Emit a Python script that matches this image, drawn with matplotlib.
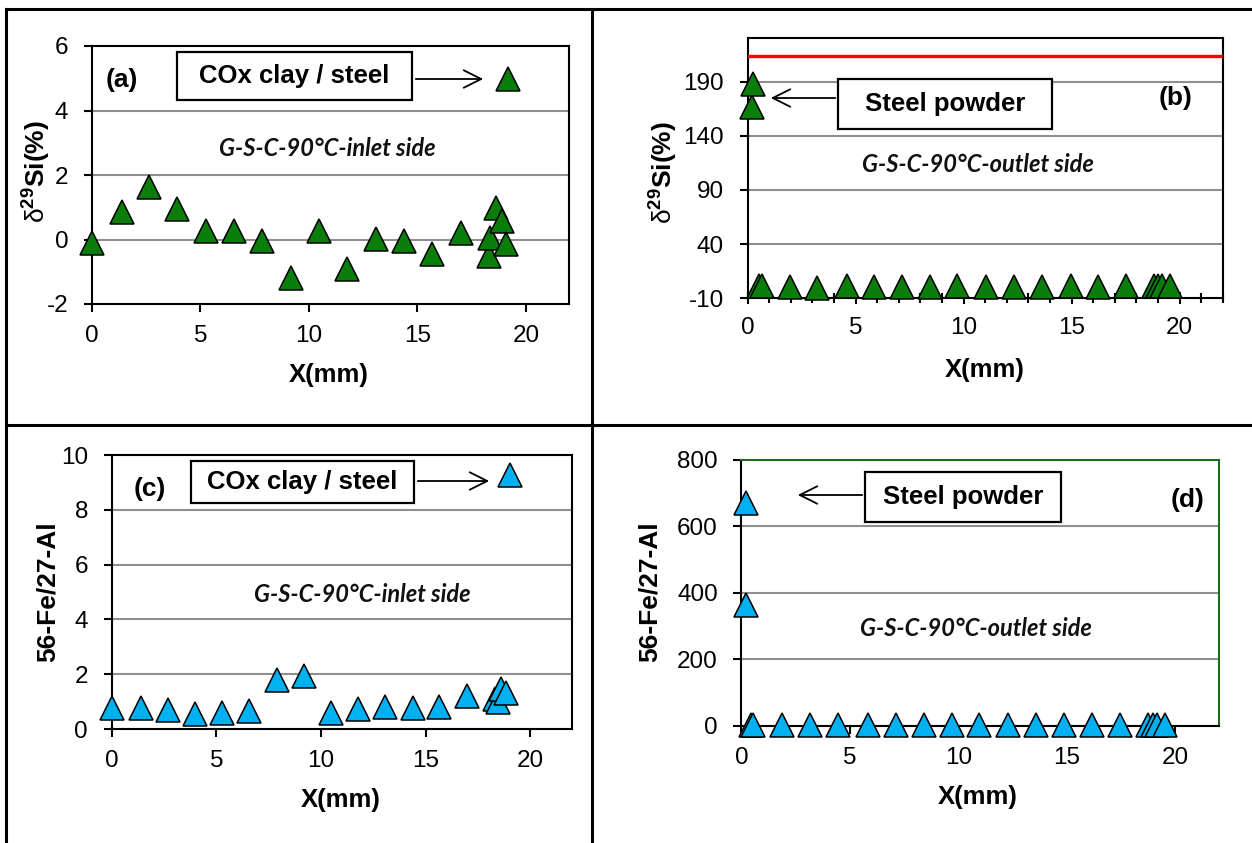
import matplotlib
matplotlib.use("Agg")
import matplotlib.pyplot as plt
from matplotlib.patches import Rectangle, FancyArrowPatch
from matplotlib.lines import Line2D
from matplotlib.ticker import MultipleLocator

plt.rcParams['font.family'] = ['Liberation Sans', 'DejaVu Sans']
plt.rcParams['mathtext.fontset'] = 'custom'
plt.rcParams['mathtext.rm'] = 'Liberation Sans'
plt.rcParams['mathtext.bf'] = 'Liberation Sans:bold'
plt.rcParams['mathtext.it'] = 'Liberation Sans:italic'
plt.rcParams['axes.unicode_minus'] = False

# ---- data -------------------------------------------------------------
# (a) delta 29Si, inlet side
x_a = [0.0, 1.38, 2.65, 3.92, 5.26, 6.57, 7.84, 9.19, 10.46, 11.76, 13.1,
       14.4, 15.69, 17.0, 18.28, 18.35, 18.64, 18.9, 19.1, 19.18]
y_a = [-0.1, 0.85, 1.64, 0.95, 0.27, 0.25, -0.04, -1.19, 0.27, -0.92, 0.02,
       -0.04, -0.45, 0.19, -0.51, 0.05, 0.98, 0.56, -0.14, 4.97]

# (b) delta 29Si, outlet side
x_b = [0.2, 0.25, 0.55, 0.65, 1.94, 3.23, 4.58, 5.83, 7.14, 8.42, 9.71,
       11.02, 12.33, 13.62, 14.96, 16.21, 17.52, 18.8, 19.0, 19.19, 19.57]
y_b = [167, 188, 1.5, 1.8, 0.6, -0.4, 1.7, 0.6, 0.6, 0.6, 1.7,
       0.6, 0.6, 0.6, 1.7, 0.6, 1.2, 1.7, 1.7, 1.7, 1.7]
ref_line_b = 214

# (c) 56Fe/27Al, inlet side
x_c = [0.0, 1.39, 2.7, 4.0, 5.25, 6.57, 7.92, 9.18, 10.48, 11.75, 13.06,
       14.38, 15.65, 16.97, 18.3, 18.45, 18.6, 18.85, 19.03]
y_c = [0.78, 0.75, 0.70, 0.56, 0.57, 0.67, 1.80, 1.94, 0.57, 0.72, 0.79,
       0.78, 0.82, 1.21, 1.09, 1.0, 1.45, 1.33, 9.26]

# (d) 56Fe/27Al, outlet side
x_d = [0.2, 0.2, 0.45, 0.55, 1.86, 3.16, 4.44, 5.84, 7.13, 8.42, 9.72,
       10.95, 12.29, 13.59, 14.89, 16.17, 17.45, 18.76, 18.95, 19.14, 19.53]
y_d = [362, 672, 3, 3, 3, 3, 3, 3, 3, 3, 3,
       3, 3, 3, 3, 3, 3, 3, 3, 3, 3]

x_ticks = [0, 5, 10, 15, 20]

GREEN = '#0b7d0b'
BLUE = '#00b0f0'

# ---- figure -------------------------------------------------------------
W, H = 1252, 843
fig = plt.figure(figsize=(W / 100, H / 100), dpi=100)
fig.patch.set_facecolor('white')


def fx(x):
    return x / W


def fy(y):
    return 1 - y / H


def make_axes(l, t, r, b):
    return fig.add_axes([fx(l), fy(b), (r - l) / W, (b - t) / H])


def style_axes(ax, ylim, yticks, grid_vals):
    ax.set_xlim(0, 22)
    ax.set_ylim(*ylim)
    ax.set_xticks(x_ticks)
    ax.set_yticks(yticks)
    for v in grid_vals:
        ax.axhline(v, color='#8f8f8f', lw=1.5, zorder=1)
    for s in ax.spines.values():
        s.set_linewidth(1.5)
        s.set_color('black')
        s.set_zorder(2)
    ax.tick_params(axis='both', labelsize=17.5, width=1.5, length=6,
                   direction='out')
    ax.tick_params(axis='y', pad=11)
    ax.tick_params(axis='x', pad=9)


def tri(ax, xs, ys, color):
    ax.plot(xs, ys, linestyle='none', marker='^', markersize=16.8,
            markerfacecolor=color, markeredgecolor='black',
            markeredgewidth=1.1, clip_on=False, zorder=5)


def box_text(l, t, r, b, text, size=18.5):
    fig.add_artist(Rectangle((fx(l), fy(b)), (r - l) / W, (b - t) / H,
                             transform=fig.transFigure, facecolor='white',
                             edgecolor='black', lw=1.6, zorder=10))
    fig.text(fx((l + r) / 2), fy((t + b) / 2), text, fontsize=size,
             fontweight='bold', ha='center', va='center', zorder=11)


def arrow(x0, y0, x1, y1):
    fig.add_artist(FancyArrowPatch((fx(x0), fy(y0)), (fx(x1), fy(y1)),
                                   transform=fig.transFigure,
                                   arrowstyle='->,head_length=0.9,head_width=0.45',
                                   mutation_scale=14, lw=1.3, color='black',
                                   zorder=12))


def italic_note(x, y, text):
    fig.text(fx(x), fy(y), text, fontsize=17, family='Lato',
             style='italic', fontweight='bold', ha='center', va='center',
             color='#111111')


def label(x, y, text, rot=0, size=18.5):
    fig.text(fx(x), fy(y), text, fontsize=size, fontweight='bold',
             ha='center', va='center', rotation=rot)


delta_label = r'$\mathrm{\delta}^{\mathbf{29}}\mathbf{Si(\%)}$'

# (a)
ax_a = make_axes(91.8, 46, 569.4, 304)
style_axes(ax_a, (-2, 6), [-2, 0, 2, 4, 6], [0, 2, 4])
tri(ax_a, x_a, y_a, GREEN)
label(37, 172, delta_label, rot=90, size=19)
label(329, 375, 'X(mm)')
box_text(177, 52, 412, 100, 'COx clay / steel')
arrow(413, 79, 486, 79)
label(122, 80, '(a)', size=19)
italic_note(327, 148, 'G-S-C-90°C-inlet side')

# (b)
ax_b = make_axes(747.6, 38.3, 1222.9, 298.3)
style_axes(ax_b, (-10, 230), [-10, 40, 90, 140, 190], [40, 90, 140, 190])
ax_b.xaxis.set_minor_locator(MultipleLocator(1))
ax_b.tick_params(axis='x', which='both', direction='inout')
ax_b.tick_params(axis='x', which='minor', length=7, width=1.5)
ax_b.tick_params(axis='x', which='major', length=9)
ax_b.axhline(ref_line_b, color='#ff0000', lw=2.4, zorder=3)
tri(ax_b, x_b, y_b, GREEN)
label(664, 173, delta_label, rot=90, size=19)
label(985, 370, 'X(mm)')
box_text(838, 79, 1052, 129, 'Steel powder')
arrow(838, 98, 768, 98)
label(1176, 98, '(b)', size=19)
italic_note(978, 165, 'G-S-C-90°C-outlet side')

# (c)
ax_c = make_axes(111.7, 455, 572.1, 729)
style_axes(ax_c, (0, 10), [0, 2, 4, 6, 8, 10], [2, 4, 6, 8])
tri(ax_c, x_c, y_c, BLUE)
label(48, 592, '56-Fe/27-Al', rot=90, size=19)
label(341, 800, 'X(mm)')
box_text(191, 461, 414, 503, 'COx clay / steel')
arrow(415, 481, 492, 481)
label(150, 489, '(c)', size=19)
italic_note(362, 594, 'G-S-C-90°C-inlet side')

# (d)
ax_d = make_axes(741.4, 460, 1218.7, 725.7)
style_axes(ax_d, (0, 800), [0, 200, 400, 600, 800], [200, 400, 600])
ax_d.spines['top'].set_color('#1e6b1e')
ax_d.spines['right'].set_color('#1e6b1e')
tri(ax_d, x_d, y_d, BLUE)
label(650, 592, '56-Fe/27-Al', rot=90, size=19)
label(978, 797, 'X(mm)')
box_text(865, 472, 1061, 522, 'Steel powder')
arrow(865, 495, 795, 495)
label(1188, 500, '(d)', size=19)
italic_note(976, 629, 'G-S-C-90°C-outlet side')

# ---- table frame ----------------------------------------------------------
frame_kw = dict(color='black', lw=2.2, transform=fig.transFigure, zorder=20)
fig.add_artist(Line2D([fx(6), fx(6)], [fy(9), fy(843)], **frame_kw))
fig.add_artist(Line2D([fx(6), fx(1252)], [fy(9), fy(9)], **frame_kw))
fig.add_artist(Line2D([fx(592), fx(592)], [fy(9), fy(843)], **frame_kw))
fig.add_artist(Line2D([fx(6), fx(1252)], [fy(425), fy(425)], **frame_kw))

fig.savefig('out.png', dpi=100, facecolor='white')
